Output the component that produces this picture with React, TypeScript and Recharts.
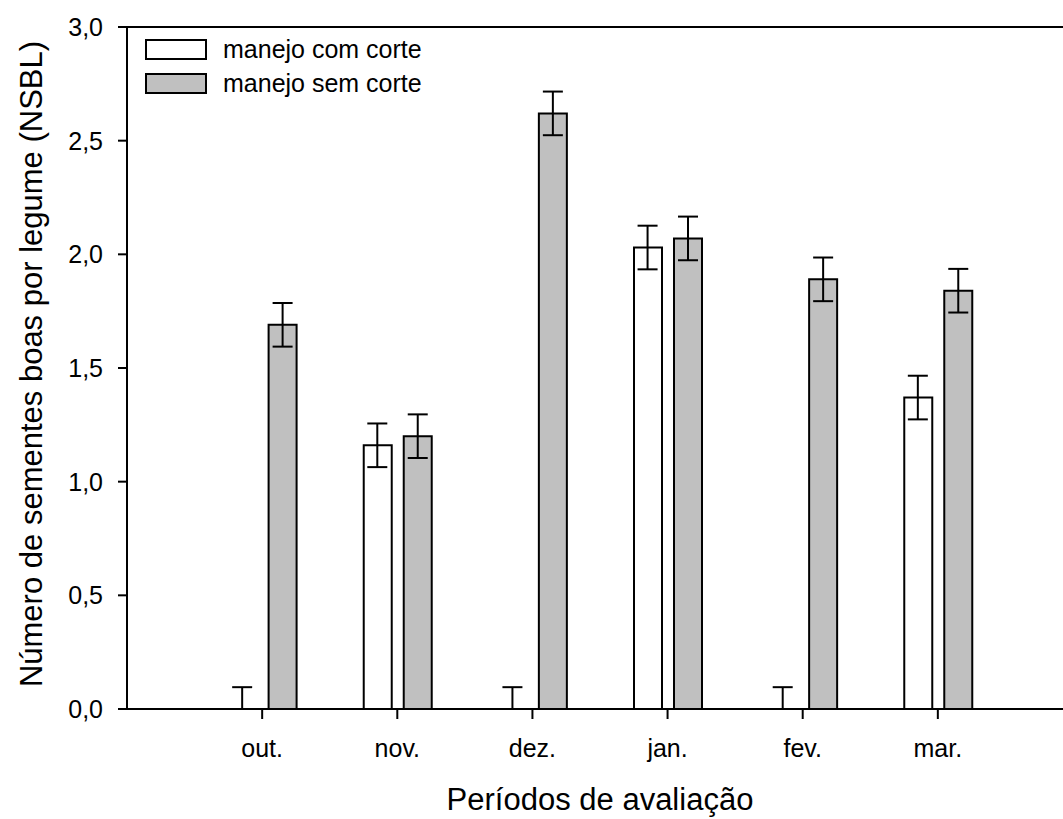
import React from "react";
import {
  ComposedChart,
  Bar,
  Scatter,
  XAxis,
  YAxis,
  ErrorBar,
  ReferenceLine,
  Label,
} from "recharts";

const periodos = ["out.", "nov.", "dez.", "jan.", "fev.", "mar."];
const comCorte = [0, 1.16, 0, 2.03, 0, 1.37];
const semCorte = [1.69, 1.2, 2.62, 2.07, 1.89, 1.84];
const erroComCorte = [0.096, 0.096, 0.096, 0.096, 0.096, 0.096];
const erroSemCorte = [0.096, 0.096, 0.096, 0.096, 0.096, 0.096];
const yTicks = [0, 0.5, 1, 1.5, 2, 2.5, 3];
const legendas = ["manejo com corte", "manejo sem corte"];

const FONT = '"Liberation Sans", Arial, Helvetica, sans-serif';
const CINZA = "#c0c0c0";

// band padding: half a category on each side of the six groups
const PAD = 67.6;
// distance between a group's centre and each bar's centre
const DESLOC = 20;

// the lower whisker stops at the axis, so empty bars only show the upper half
const data = periodos.map((periodo, i) => ({
  periodo,
  com: comCorte[i],
  sem: semCorte[i],
  erroCom: [Math.min(erroComCorte[i], comCorte[i]), erroComCorte[i]],
  erroSem: [Math.min(erroSemCorte[i], semCorte[i]), erroSemCorte[i]],
}));

const formatTick = (v: number) => v.toFixed(1).replace(".", ",");

const TituloY = (props: any) => {
  const vb = props.viewBox || { x: 0, y: 27, width: 127, height: 682 };
  const x = 42;
  const y = vb.y + vb.height / 2 - 4;
  return (
    <text
      x={x}
      y={y}
      transform={`rotate(-90, ${x}, ${y})`}
      textAnchor="middle"
      fontSize={31}
      fontFamily={FONT}
      fill="#000"
    >
      Número de sementes boas por legume (NSBL)
    </text>
  );
};

const TituloX = (props: any) => {
  const vb = props.viewBox || { x: 127, y: 709, width: 946, height: 110 };
  return (
    <text
      x={vb.x + vb.width / 2}
      y={vb.y + 101}
      textAnchor="middle"
      fontSize={31}
      fontFamily={FONT}
      fill="#000"
    >
      Períodos de avaliação
    </text>
  );
};

const Legenda = () => (
  <svg
    width={260}
    height={80}
    style={{ position: "absolute", left: 140, top: 34, overflow: "visible" }}
  >
    {legendas.map((nome, i) => (
      <g key={nome}>
        <rect
          x={6}
          y={6 + i * 34}
          width={60}
          height={19}
          fill={i === 0 ? "#fff" : CINZA}
          stroke="#000"
          strokeWidth={2}
        />
        <text x={83} y={24 + i * 34} fontSize={25} fontFamily={FONT} fill="#000">
          {nome}
        </text>
      </g>
    ))}
  </svg>
);

const SemPonto = () => <g />;

export default function App() {
  return (
    <div
      style={{
        position: "fixed",
        left: 0,
        top: 0,
        width: 1063,
        height: 819,
        overflow: "hidden",
        background: "#fff",
      }}
    >
      <ComposedChart
        width={1080}
        height={819}
        data={data}
        margin={{ top: 27, right: 7, bottom: 0, left: 0 }}
        barGap={12}
      >
        <XAxis
          dataKey="periodo"
          height={110}
          padding={{ left: PAD, right: PAD }}
          tickSize={10}
          tickMargin={20}
          axisLine={{ stroke: "#000", strokeWidth: 2 }}
          tickLine={{ stroke: "#000", strokeWidth: 2 }}
          tick={{ fill: "#000", fontSize: 25, fontFamily: FONT }}
        >
          <Label content={<TituloX />} />
        </XAxis>
        {/* hidden copy of the category axis, shifted onto the white bars */}
        <XAxis
          xAxisId="com"
          dataKey="periodo"
          hide
          padding={{ left: PAD - DESLOC, right: PAD + DESLOC }}
        />
        <YAxis
          width={127}
          domain={[0, 3]}
          ticks={yTicks}
          tickFormatter={formatTick}
          tickSize={9}
          tickMargin={15}
          axisLine={{ stroke: "#000", strokeWidth: 2 }}
          tickLine={{ stroke: "#000", strokeWidth: 2 }}
          tick={{ fill: "#000", fontSize: 25, fontFamily: FONT }}
        >
          <Label content={<TituloY />} />
        </YAxis>
        <ReferenceLine y={3} stroke="#000" strokeWidth={2} />
        <Bar
          dataKey="com"
          fill="#fff"
          stroke="#000"
          strokeWidth={2}
          barSize={28}
          isAnimationActive={false}
        />
        <Bar
          dataKey="sem"
          fill={CINZA}
          stroke="#000"
          strokeWidth={2}
          barSize={28}
          isAnimationActive={false}
        >
          <ErrorBar
            dataKey="erroSem"
            width={10}
            stroke="#000"
            strokeWidth={2}
            direction="y"
            isAnimationActive={false}
          />
        </Bar>
        {/* whiskers of the white bars, including the empty months */}
        <Scatter
          xAxisId="com"
          dataKey="com"
          shape={<SemPonto />}
          legendType="none"
          isAnimationActive={false}
        >
          <ErrorBar
            dataKey="erroCom"
            width={10}
            stroke="#000"
            strokeWidth={2}
            direction="y"
            isAnimationActive={false}
          />
        </Scatter>
      </ComposedChart>
      <Legenda />
    </div>
  );
}
